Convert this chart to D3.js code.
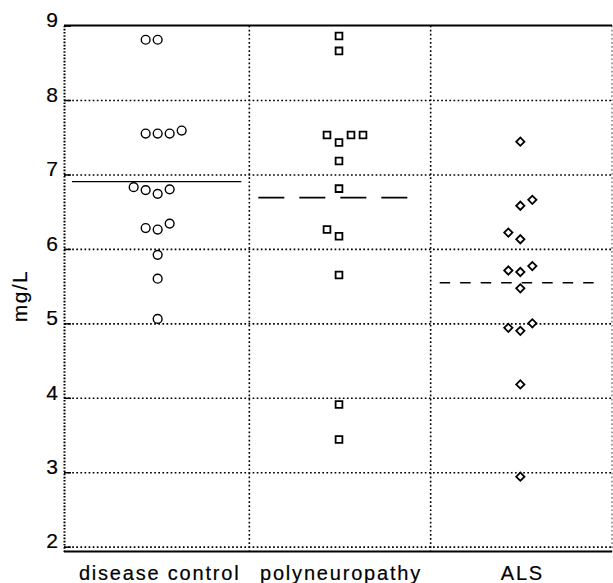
<!DOCTYPE html>
<html>
<head>
<meta charset="utf-8">
<script src="https://cdn.jsdelivr.net/npm/d3@7"></script>
<style>
body { margin: 0; background: #fff; }
svg { display: block; font-family: "Liberation Sans", Arial, sans-serif; }
svg text { stroke: #000; stroke-width: 0.2px; }
</style>
</head>
<body>
<div id="chart"></div>
<script>
var categories = ["disease control", "polyneuropathy", "ALS"];
var yTicks = [2, 3, 4, 5, 6, 7, 8, 9];
var gridTicks = [2, 3, 4, 5, 6, 7, 8];

// values, slot = horizontal column within the group
var controlValues = [8.81, 8.81, 7.55, 7.55, 7.55, 7.59, 6.83, 6.79, 6.74, 6.80, 6.28, 6.26, 6.34, 5.92, 5.60, 5.06];
var controlSlots  = [-1, 0, -1, 0, 1, 2, -2, -1, 0, 1, -1, 0, 1, 0, 0, 0];
var polyValues = [8.86, 8.66, 7.53, 7.43, 7.53, 7.53, 7.18, 6.81, 6.26, 6.17, 5.65, 3.91, 3.44];
var polySlots  = [0, 0, -1, 0, 1, 2, 0, 0, -1, 0, 0, 0, 0];
var alsValues = [7.44, 6.66, 6.58, 6.22, 6.13, 5.71, 5.69, 5.77, 5.47, 4.94, 4.90, 5.00, 4.18, 2.94];
var alsSlots  = [0, 1, 0, -1, 0, -1, 0, 1, 0, -1, 0, 1, 0, 0];

var groups = [
  {cat: categories[0], values: controlValues, slots: controlSlots, marker: "circle", dash: null, inL: 4, inR: 8, sw: 1.2},
  {cat: categories[1], values: polyValues, slots: polySlots, marker: "square", dash: "26,15", inL: 9, inR: 12, sw: 1.8},
  {cat: categories[2], values: alsValues, slots: alsSlots, marker: "diamond", dash: "10.5,10", inL: 9, inR: 12, sw: 1.5}
];

var width = 613;
var height = 583;
var pLeft = 64, pRight = 612, pTop = 25.6, pBottom = 551.5;

var svg = d3.select("#chart")
            .append("svg")
            .attr("width", width)
            .attr("height", height);

var x = d3.scaleBand().domain(categories).range([68, pRight]);
var y = d3.scaleLinear().domain([1.935, 9]).range([pBottom, pTop]);
var slot = d3.scaleLinear().domain([-2, 2]).range([-24, 24]);

function cx(cat) { return x(cat) + x.bandwidth() / 2 - 1; }

// horizontal dotted grid
svg.append("g")
   .attr("transform", "translate(" + pLeft + ",0)")
   .call(d3.axisLeft(y).tickValues(gridTicks).tickSize(-(pRight - pLeft)).tickFormat(""))
   .call(function(g) {
     g.select(".domain").remove();
     g.selectAll("line").attr("stroke", "#000").attr("stroke-width", 1.6).attr("stroke-dasharray", "1.7,2.4");
   });

// vertical dotted grid at group boundaries + right border
var vx = categories.slice(1).map(function(c) { return x(c); }).concat([pRight]);
svg.selectAll(".vgrid")
   .data(vx)
   .enter()
   .append("line")
   .attr("x1", function(d) { return d; })
   .attr("x2", function(d) { return d; })
   .attr("y1", pTop)
   .attr("y2", pBottom)
   .attr("stroke", function(d, i) { return i == vx.length - 1 ? "#888" : "#000"; })
   .attr("stroke-width", 1.6)
   .attr("stroke-dasharray", "1.7,2.4");

// left axis
svg.append("g")
   .attr("transform", "translate(" + pLeft + ",0)")
   .call(d3.axisLeft(y).tickValues(yTicks).tickSizeInner(-7).tickSizeOuter(0).tickPadding(6).tickFormat(d3.format("d")))
   .call(function(g) {
     g.select(".domain").attr("stroke", "#000").attr("stroke-width", 2).attr("stroke-dasharray", "1.6,1.6");
     g.selectAll(".tick line").attr("stroke", "#000").attr("stroke-width", 1.5);
     g.selectAll(".tick text")
      .attr("dy", "0.06em")
      .attr("fill", "#000")
      .attr("font-size", 21)
      .attr("font-family", "'Liberation Sans', Arial, sans-serif");
   });

// top and bottom solid borders
svg.append("line").attr("x1", pLeft).attr("x2", pRight).attr("y1", pTop).attr("y2", pTop)
   .attr("stroke", "#000").attr("stroke-width", 2);
svg.append("line").attr("x1", pLeft).attr("x2", pRight).attr("y1", pBottom).attr("y2", pBottom)
   .attr("stroke", "#000").attr("stroke-width", 2);

// x labels
svg.append("g")
   .attr("transform", "translate(0," + pBottom + ")")
   .call(d3.axisBottom(x).tickSize(0).tickPadding(0))
   .call(function(g) {
     g.select(".domain").remove();
     g.selectAll(".tick text")
      .attr("y", 28.5)
      .attr("dy", 0)
      .attr("dx", 1)
      .attr("fill", "#000")
      .attr("font-size", 20)
      .attr("letter-spacing", 1.8)
      .attr("font-family", "'Liberation Sans', Arial, sans-serif");
   });

// y label
svg.append("text")
   .attr("transform", "translate(27,296) rotate(-90)")
   .attr("text-anchor", "middle")
   .attr("font-size", 21)
   .attr("letter-spacing", 1.4)
   .text("mg/L");

// mean lines
svg.selectAll(".mean")
   .data(groups)
   .enter()
   .append("line")
   .attr("x1", function(d) { return x(d.cat) + d.inL; })
   .attr("x2", function(d) { return x(d.cat) + x.bandwidth() - d.inR; })
   .attr("y1", function(d) { return y(d3.mean(d.values)); })
   .attr("y2", function(d) { return y(d3.mean(d.values)); })
   .attr("stroke", "#000")
   .attr("stroke-width", function(d) { return d.sw; })
   .attr("stroke-dasharray", function(d) { return d.dash; });

// points
var sym = {
  circle: d3.symbol().type(d3.symbolCircle).size(Math.PI * 4.4 * 4.4),
  square: d3.symbol().type(d3.symbolSquare).size(46),
  diamond: d3.symbol().type(d3.symbolSquare).size(34)
};

groups.forEach(function(gr) {
  var pts = gr.values.map(function(v, i) { return {v: v, s: gr.slots[i]}; });
  svg.selectAll(".pt-" + gr.marker)
     .data(pts)
     .enter()
     .append("path")
     .attr("d", sym[gr.marker])
     .attr("transform", function(d) {
       return "translate(" + (cx(gr.cat) + slot(d.s)) + "," + y(d.v) + ")" + (gr.marker == "diamond" ? " rotate(45)" : "");
     })
     .attr("fill", "#fff")
     .attr("stroke", "#000")
     .attr("stroke-width", gr.marker == "circle" ? 1.4 : 1.8);
});
</script>
</body>
</html>
